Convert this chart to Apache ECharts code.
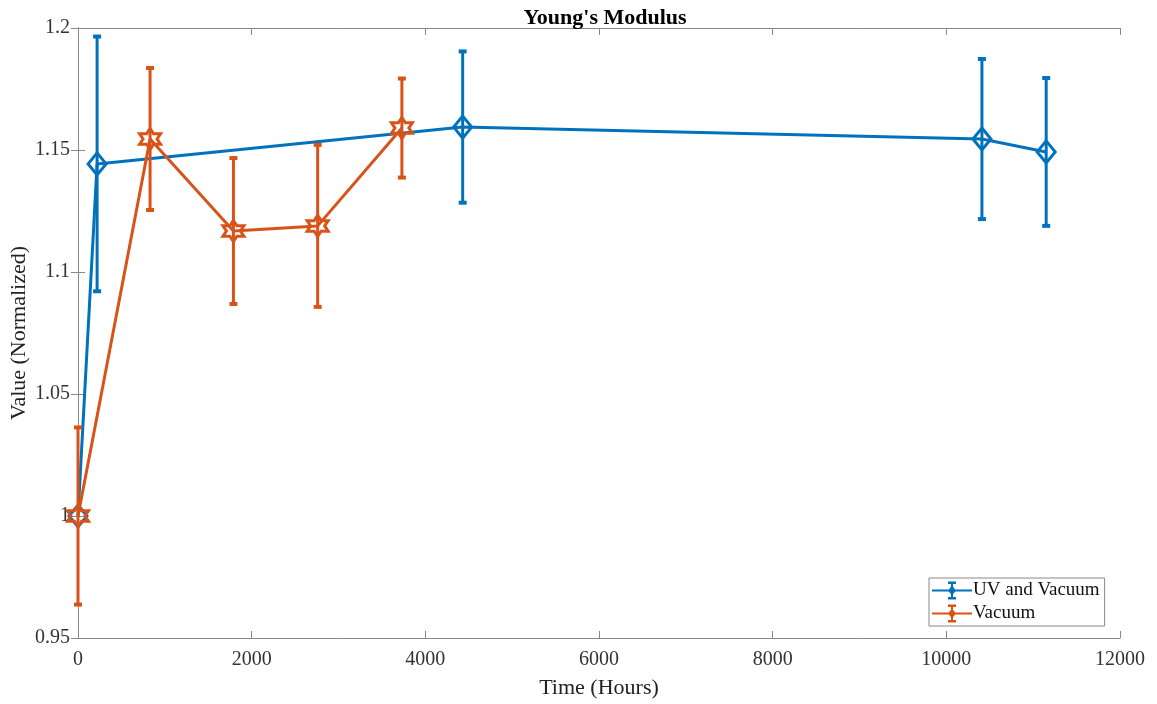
<!DOCTYPE html>
<html>
<head>
<meta charset="utf-8">
<script src="https://cdn.jsdelivr.net/npm/echarts@6/dist/echarts.min.js"></script>
<style>
html, body { margin: 0; padding: 0; background: #fff; }
#chart { width: 1157px; height: 704px; }
</style>
</head>
<body>
<div id="chart"></div>
<script>
// UV and Vacuum
const uvHours = [0, 220, 4430, 10410, 11150]
const uvValue = [1.0, 1.1443, 1.1594, 1.1545, 1.1492]
const uvError = [0, 0.0522, 0.031, 0.0328, 0.0303]

// Vacuum only
const vacHours = [0, 830, 1790, 2760, 3730]
const vacValue = [1.0, 1.1545, 1.1168, 1.1189, 1.159]
const vacError = [0.0363, 0.0291, 0.0299, 0.0332, 0.0203]

const xTicks = [0, 2000, 4000, 6000, 8000, 10000, 12000]
const yTicks = [0.95, 1, 1.05, 1.1, 1.15, 1.2]

const blue = "#0072BD"
const orange = "#D95319"
const font = "'Liberation Serif', 'Times New Roman', serif"

// six pointed star
const hexagram = (() => {
	let pts = []
	for (let i = 0; i < 12; i++) {
		let a = -Math.PI / 2 + i * Math.PI / 6
		let r = i % 2 === 0 ? 1 : 0.577
		pts.push((Math.cos(a) * r).toFixed(3) + "," + (Math.sin(a) * r).toFixed(3))
	}
	return "path://M" + pts.join(" L") + " Z"
})()
const diamond = "path://M0,-1 L0.8,0 L0,1 L-0.8,0 Z"

const legendIcon = "path://M0,8 H40 V10 H0 Z M19,1 H21 V17 H19 Z M16,0 H24 V2.5 H16 Z M16,15.5 H24 V18 H16 Z M20,4 L24,9 L20,14 L16,9 Z"

const errData = (xs, ys, es) => xs.map((x, i) => [x, ys[i] - es[i], ys[i] + es[i]])
const pairs = (xs, ys) => xs.map((x, i) => [x, ys[i]])

const errorRender = (color) => (params, api) => {
	let x = api.value(0)
	let lo = api.coord([x, api.value(1)])
	let hi = api.coord([x, api.value(2)])
	if (Math.abs(lo[1] - hi[1]) < 1) return
	let style = { stroke: color, lineWidth: 3 }
	let cap = { stroke: color, lineWidth: 4 }
	return {
		type: "group",
		children: [
			{ type: "line", shape: { x1: lo[0], y1: lo[1], x2: hi[0], y2: hi[1] }, style },
			{ type: "line", shape: { x1: lo[0] - 4, y1: lo[1], x2: lo[0] + 4, y2: lo[1] }, style: cap },
			{ type: "line", shape: { x1: hi[0] - 4, y1: hi[1], x2: hi[0] + 4, y2: hi[1] }, style: cap }
		]
	}
}

let chart = echarts.init(document.getElementById("chart"))

const axisCommon = {
	axisLine: { show: true, lineStyle: { color: "#888", width: 1 } },
	splitLine: { show: false }
}

let option = {
	animation: false,
	backgroundColor: "#fff",
	title: {
		text: "Young's Modulus",
		left: 600,
		textAlign: "center",
		top: 2,
		textStyle: { fontFamily: font, fontSize: 22, fontWeight: "bold", color: "#000" }
	},
	grid: { left: 78, right: 37, top: 28, bottom: 66, outerBoundsMode: "none" },
	legend: {
		left: 929,
		top: 578,
		orient: "vertical",
		itemWidth: 40,
		itemHeight: 18,
		itemGap: 4,
		padding: [3, 5, 3, 3],
		borderColor: "#888",
		borderWidth: 1,
		backgroundColor: "#fff",
		textStyle: { fontFamily: font, fontSize: 19, color: "#111", padding: [0, 0, 0, -4] },
		data: [
			{ name: "UV and Vacuum", icon: legendIcon, itemStyle: { color: blue } },
			{ name: "Vacuum", icon: legendIcon, itemStyle: { color: orange } }
		]
	},
	xAxis: [
		Object.assign({
			type: "value",
			min: xTicks[0],
			max: xTicks[xTicks.length - 1],
			interval: 2000,
			name: "Time (Hours)",
			nameLocation: "middle",
			nameGap: 39,
			nameMoveOverlap: false,
			nameTextStyle: { fontFamily: font, fontSize: 22, color: "#222" },
			axisTick: { show: true, inside: true, length: 7, lineStyle: { color: "#888" }, customValues: xTicks },
			axisLabel: { fontFamily: font, fontSize: 20, color: "#333", margin: 12, customValues: xTicks, formatter: (v) => String(v) }
		}, axisCommon),
		Object.assign({
			type: "value",
			position: "top",
			min: xTicks[0],
			max: xTicks[xTicks.length - 1],
			interval: 2000,
			axisTick: { show: true, inside: true, length: 7, lineStyle: { color: "#888" }, customValues: xTicks },
			axisLabel: { show: false }
		}, axisCommon)
	],
	yAxis: [
		Object.assign({
			type: "value",
			min: yTicks[0],
			max: yTicks[yTicks.length - 1],
			interval: 0.05,
			name: "Value (Normalized)",
			nameLocation: "middle",
			nameGap: 48,
			nameMoveOverlap: false,
			nameTextStyle: { fontFamily: font, fontSize: 22, color: "#222" },
			axisTick: { show: true, inside: true, length: 7, lineStyle: { color: "#888" }, customValues: yTicks },
			axisLabel: {
				fontFamily: font, fontSize: 20, color: "#333", margin: 8,
				customValues: yTicks,
				formatter: (v) => String(parseFloat(Number(v).toFixed(2)))
			}
		}, axisCommon),
		Object.assign({
			type: "value",
			position: "right",
			min: yTicks[0],
			max: yTicks[yTicks.length - 1],
			interval: 0.05,
			axisTick: { show: true, inside: true, length: 7, lineStyle: { color: "#888" }, customValues: yTicks },
			axisLabel: { show: false }
		}, axisCommon)
	],
	series: [
		{
			name: "UV and Vacuum",
			type: "custom",
			renderItem: errorRender(blue),
			data: errData(uvHours, uvValue, uvError),
			encode: { x: 0, y: [1, 2] },
			z: 2,
			clip: false
		},
		{
			name: "UV and Vacuum",
			type: "line",
			data: pairs(uvHours, uvValue),
			symbol: diamond,
			symbolSize: [18, 22],
			showAllSymbol: true,
			lineStyle: { color: blue, width: 3 },
			itemStyle: { color: "rgba(0,0,0,0)", borderColor: blue, borderWidth: 3 },
			z: 3
		},
		{
			name: "Vacuum",
			type: "custom",
			renderItem: errorRender(orange),
			data: errData(vacHours, vacValue, vacError),
			encode: { x: 0, y: [1, 2] },
			z: 4,
			clip: false
		},
		{
			name: "Vacuum",
			type: "line",
			data: pairs(vacHours, vacValue),
			symbol: hexagram,
			symbolSize: 21,
			showAllSymbol: true,
			lineStyle: { color: orange, width: 3 },
			itemStyle: { color: "rgba(0,0,0,0)", borderColor: orange, borderWidth: 3 },
			z: 5
		}
	]
}
chart.setOption(option)
</script>
</body>
</html>
